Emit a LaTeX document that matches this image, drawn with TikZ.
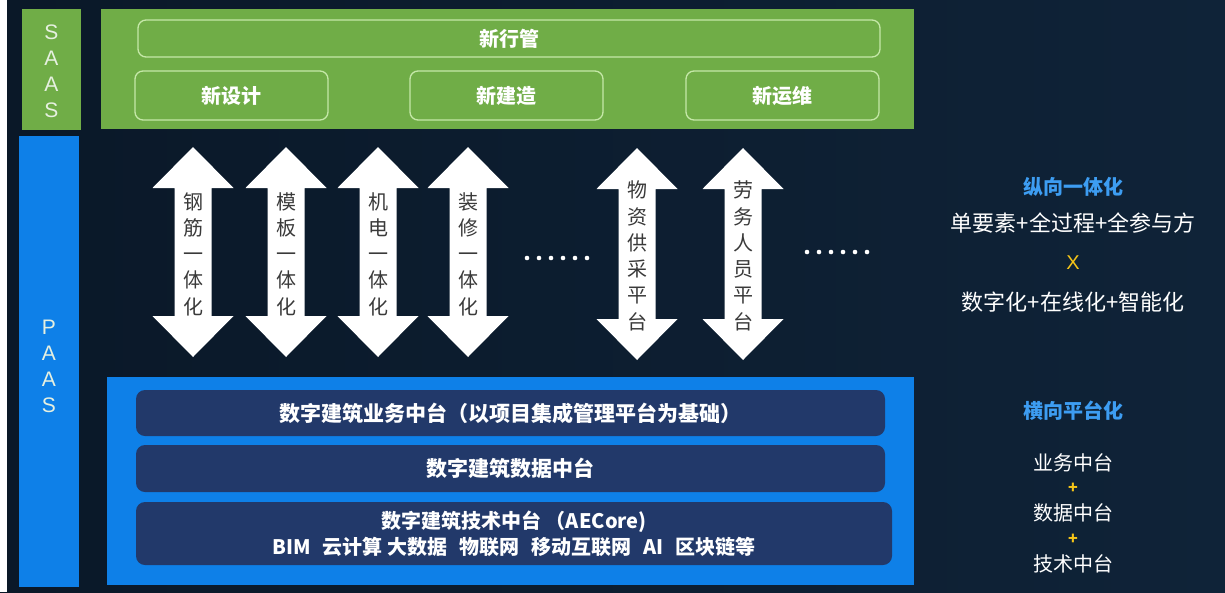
\documentclass[tikz,border=0pt]{standalone}
\usepackage{fontspec}
\setmainfont{Noto Sans CJK SC}
\newfontfamily\latf{Liberation Sans}
\definecolor{bgc}{HTML}{0A1828}
\definecolor{bgr}{HTML}{0F2338}
\definecolor{grn}{HTML}{70AD47}
\definecolor{grnline}{HTML}{C5E8A8}
\definecolor{blu}{HTML}{0E80E8}
\definecolor{barc}{HTML}{22396A}
\definecolor{headc}{HTML}{3D9DF2}
\definecolor{yel}{HTML}{F5C518}
\definecolor{artxt}{HTML}{3A3A3A}
\definecolor{lettc}{HTML}{E6F0E0}
\tikzset{
  greenpanel/.style={fill=grn, draw=none, inner sep=0pt},
  bluepanel/.style={fill=blu, draw=none, inner sep=0pt},
  gbox/.style={draw=grnline, line width=1.3pt, rounded corners=8pt, text=white,
     font=\bfseries\fontsize{20}{24}\selectfont, inner sep=0pt},
  barbox/.style={fill=barc, draw=none, rounded corners=9pt, text=white,
     font=\bfseries\fontsize{21}{26}\selectfont, inner sep=0pt, align=center},
  letters/.style={text=lettc, font=\latf\fontsize{21}{26}\selectfont, align=center, inner sep=0pt},
  artext/.style={text=artxt, font=\fontsize{20}{26.25}\selectfont, align=center, inner sep=0pt},
  headtxt/.style={text=headc, font=\bfseries\fontsize{20}{24}\selectfont, inner sep=0pt},
  sidetxt/.style={text=white, font=\fontsize{22}{26}\selectfont, inner sep=0pt},
  yeltxt/.style={text=yel, font=\latf\fontsize{20}{24}\selectfont, inner sep=0pt},
  dot/.style={circle, fill=white, minimum size=4.6pt, inner sep=0pt},
}
\newcommand\mkdarrow[5]{%
  \fill[white] (#2,#3) -- (#2+40.5,#3+41) -- (#2+18.5,#3+41) -- (#2+18.5,#4-41)
     -- (#2+40.5,#4-41) -- (#2,#4) -- (#2-40.5,#4-41) -- (#2-18.5,#4-41)
     -- (#2-18.5,#3+41) -- (#2-40.5,#3+41) -- cycle;
  \node[artext] (#1) at (#2,{(#3+#4)/2+2}) {#5};
}
\newcommand\mkdots[3]{%
  \foreach \i in {0,...,5} {\node[dot] (#1\i) at (#2+\i*12,#3) {};}
}
\newcommand\gp{\hspace{12pt}}
\begin{document}
\begin{tikzpicture}[x=1pt,y=-1pt]
\useasboundingbox (0,0) rectangle (1225,592);
\shade[left color=bgc, right color=bgr] (0,0) rectangle (1225,592);
\fill[white] (0,0) rectangle (7,592);

% SAAS column
\node[greenpanel, minimum width=59pt, minimum height=121pt] (saas) at (51.5,69.5) {};
\node[letters] (saastxt) at (51.5,71) {S\\A\\A\\S};
% PAAS column
\node[bluepanel, minimum width=60pt, minimum height=451pt] (paas) at (49,361.5) {};
\node[letters] (paastxt) at (49,366) {P\\A\\A\\S};

% green SaaS panel
\node[greenpanel, minimum width=813pt, minimum height=120pt] (green) at (507.5,69) {};
\node[gbox, minimum width=742pt, minimum height=37pt] (xhg) at (509,38.5) {新行管};
\node[gbox, minimum width=193pt, minimum height=49pt] (xsj) at (231.5,95.5) {新设计};
\node[gbox, minimum width=193pt, minimum height=49pt] (xjz) at (506.5,95.5) {新建造};
\node[gbox, minimum width=193pt, minimum height=49pt] (xyw) at (782.5,95.5) {新运维};

% double arrows
\mkdarrow{a1}{193}{147}{357}{钢\\筋\\一\\体\\化}
\mkdarrow{a2}{286}{147}{357}{模\\板\\一\\体\\化}
\mkdarrow{a3}{378}{147}{357}{机\\电\\一\\体\\化}
\mkdarrow{a4}{468}{147}{357}{装\\修\\一\\体\\化}
\mkdarrow{a5}{637}{148}{360}{物\\资\\供\\采\\平\\台}
\mkdarrow{a6}{743}{148}{360}{劳\\务\\人\\员\\平\\台}
\mkdots{d}{527}{258}
\mkdots{e}{807}{252}

% blue PaaS panel
\node[bluepanel, minimum width=807pt, minimum height=208pt] (blue) at (510.5,481) {};
\node[barbox, minimum width=749pt, minimum height=46pt] (b1) at (510.5,413) {数字建筑业务中台（以项目集成管理平台为基础）};
\node[barbox, minimum width=749pt, minimum height=47pt] (b2) at (510.5,468.5) {数字建筑数据中台};
\node[barbox, minimum width=756pt, minimum height=63pt, font=\bfseries\fontsize{20}{26}\selectfont] (b3) at (514,533.5) {数字建筑技术中台 （AECore)\\BIM\gp 云计算 大数据\gp 物联网\gp 移动互联网\gp AI\gp 区块链等};

% right side text
\node[headtxt] (h1) at (1073,187) {纵向一体化};
\node[sidetxt] (s1) at (1073,223) {单要素+全过程+全参与方};
\node[yeltxt] (x1) at (1073,263) {X};
\node[sidetxt] (s2) at (1073,302) {数字化+在线化+智能化};
\node[headtxt] (h2) at (1073,411) {横向平台化};
\node[sidetxt, font=\fontsize{20}{24}\selectfont] (t1) at (1073,463) {业务中台};
\node[yeltxt, font=\bfseries\fontsize{16}{20}\selectfont] (p1) at (1073,488) {+};
\node[sidetxt, font=\fontsize{20}{24}\selectfont] (t2) at (1073,513) {数据中台};
\node[yeltxt, font=\bfseries\fontsize{16}{20}\selectfont] (p2) at (1073,539) {+};
\node[sidetxt, font=\fontsize{20}{24}\selectfont] (t3) at (1073,564) {技术中台};
\end{tikzpicture}
\end{document}
